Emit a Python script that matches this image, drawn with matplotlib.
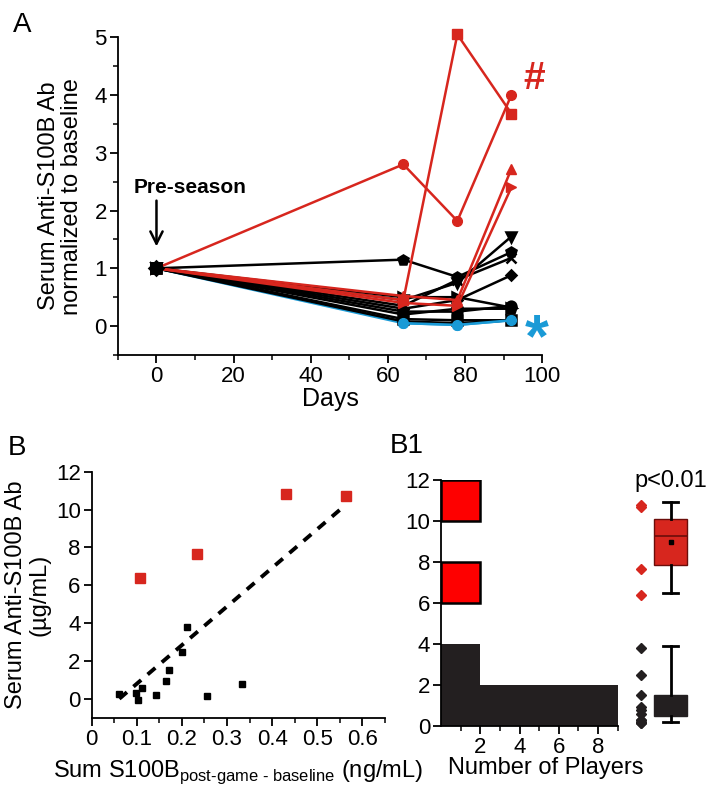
import numpy as np
import matplotlib
matplotlib.use("Agg")
import matplotlib.pyplot as plt
from matplotlib.ticker import MultipleLocator

plt.rcParams['font.family'] = ['Liberation Sans', 'DejaVu Sans']
plt.rcParams['mathtext.fontset'] = 'custom'
plt.rcParams['mathtext.rm'] = 'Liberation Sans'

RED = '#d7261e'
BLUE = '#1a9ad6'
DARK = '#231f20'

# ---- panel A: antibody over the season (normalized) ----
days = [0, 64, 78, 92]
red_players = [
    [1, 2.80, 1.82, 4.00],
    [1, 0.45, 5.05, 3.68],
    [1, 0.52, 0.45, 2.72],
    [1, 0.40, 0.35, 2.40],
]
black_players = [
    [1, 0.45, 0.75, 1.55],
    [1, 1.15, 0.85, 1.28],
    [1, 0.35, 0.80, 1.18],
    [1, 0.30, 0.45, 0.88],
    [1, 0.25, 0.25, 0.35],
    [1, 0.20, 0.30, 0.30],
    [1, 0.12, 0.10, 0.10],
    [1, 0.50, 0.50, 0.32],
    [1, 0.08, 0.05, 0.10],
]
blue_player = [1, 0.05, 0.02, 0.10]

# ---- panel B: antibody vs summed S100B ----
s100b_black = [0.061, 0.099, 0.103, 0.112, 0.142, 0.164, 0.172, 0.201, 0.212, 0.256, 0.333]
ab_black = [0.27, 0.30, -0.07, 0.57, 0.22, 0.94, 1.53, 2.47, 3.79, 0.14, 0.79]
s100b_red = [0.108, 0.233, 0.430, 0.564]
ab_red = [6.37, 7.64, 10.80, 10.70]

# ---- panel B1: box summaries ----
box_red = dict(med=9.28, q1=7.85, q3=10.1, whislo=6.5, whishi=10.94, mean=8.99)
box_black = dict(med=1.0, q1=0.5, q3=1.5, whislo=0.18, whishi=3.92, mean=1.0)
hist_edges = [0, 2, 4, 6, 8, 10, 12]

fig = plt.figure(figsize=(7.06, 7.94), dpi=100)

# ================= A =================
axA = fig.add_axes([0.167, 0.553, 0.601, 0.400])
red_marks = ['o', 's', '^', '>']
black_marks = ['v', 'p', 'x', 'D', 'o', 'p', 's', '>', '*']

axA.plot(days, blue_player, color=BLUE, lw=1.8, marker='o', ms=7, zorder=2)
for vals, m in zip(black_players, black_marks):
    axA.plot(days, vals, color='black', lw=1.8, marker=m, ms=7 if m != 'D' else 5.5,
             mew=1.8, zorder=3)
for vals, m in zip(red_players, red_marks):
    axA.plot(days, vals, color=RED, lw=1.8, marker=m, ms=7, zorder=4, clip_on=False)
axA.plot(days[1:], blue_player[1:], color=BLUE, lw=1.8, marker='o', ms=7, zorder=5)
# baseline markers of the black players sit on top at day 0
for vals, m in zip(black_players, black_marks):
    axA.plot(days[:1], vals[:1], color='black', marker=m, ms=7, mew=1.8, zorder=6)

axA.set_xlim(-10, 100)
axA.set_ylim(-0.5, 5)
axA.xaxis.set_major_locator(MultipleLocator(20))
axA.xaxis.set_minor_locator(MultipleLocator(10))
axA.yaxis.set_major_locator(MultipleLocator(1))
axA.yaxis.set_minor_locator(MultipleLocator(0.5))
axA.set_xlabel('Days', fontsize=18, labelpad=0)
axA.set_ylabel('Serum Anti-S100B Ab\nnormalized to baseline', fontsize=17,
               linespacing=1.05, labelpad=8)
axA.annotate('', xy=(0, 1.33), xytext=(0, 2.22),
             arrowprops=dict(arrowstyle='->', color='black', lw=1.8,
                             mutation_scale=22))
axA.text(8.6, 2.4, 'Pre-season', fontsize=15, fontweight='bold',
         ha='center', va='center')
axA.text(98, 4.27, '#', color=RED, fontsize=28, fontweight='bold',
         ha='center', va='center', clip_on=False)
axA.text(98.7, -0.25, '*', color=BLUE, fontsize=44, fontweight='bold',
         ha='center', va='center', clip_on=False)

# ================= B =================
axB = fig.add_axes([0.130, 0.096, 0.415, 0.310])
axB.plot(s100b_black, ab_black, 's', color='black', ms=4.5, zorder=3)
axB.plot(s100b_red, ab_red, 's', color=RED, ms=7, zorder=3)
all_x = np.array(s100b_black + s100b_red)
all_y = np.array(ab_black + ab_red)
slope, icpt = np.polyfit(all_x, all_y, 1)
fx = np.array([all_x.min(), all_x.max()])
axB.plot(fx, slope * fx + icpt, color='black', lw=2.8, dashes=(2.6, 2.2), zorder=2)
axB.set_xlim(0, 0.65)
axB.set_ylim(-1, 12)
axB.xaxis.set_minor_locator(MultipleLocator(0.05))
axB.yaxis.set_major_locator(MultipleLocator(2))
axB.set_xticks([0, 0.1, 0.2, 0.3, 0.4, 0.5, 0.6])
axB.set_xticklabels(['0', '0.1', '0.2', '0.3', '0.4', '0.5', '0.6'])
axB.set_ylabel('Serum Anti-S100B Ab\n(\u00b5g/mL)', fontsize=17,
               linespacing=1.05, labelpad=4)
axB.set_xlabel(r'Sum S100B$_{\text{post-game - baseline}}$ (ng/mL)',
               fontsize=17, labelpad=6)

# ================= B1 =================
axC = fig.add_axes([0.625, 0.0856, 0.361, 0.310])
cnt_b, _ = np.histogram(np.clip(ab_black, 0, None), bins=hist_edges)
cnt_r, _ = np.histogram(ab_red, bins=hist_edges)
for lo, c in zip(hist_edges[:-1], cnt_b):
    if c:
        axC.barh(lo, c, height=2, align='edge', color=DARK, edgecolor=DARK, lw=0)
for lo, c in zip(hist_edges[:-1], cnt_r):
    if c:
        axC.barh(lo, c, height=2, align='edge', color='#fe0000',
                 edgecolor='black', lw=1.8)

box_x = 11.7
dot_x = 10.2
bp = axC.bxp([box_red, box_black], positions=[box_x, box_x], widths=1.7,
             showmeans=True, patch_artist=True, showfliers=False,
             manage_ticks=False,
             whiskerprops=dict(color='black', lw=2),
             capprops=dict(color='black', lw=2),
             medianprops=dict(color='#6b0d0a', lw=1.2),
             meanprops=dict(marker='s', markerfacecolor='black',
                            markeredgecolor='black', ms=3))
bp['boxes'][0].set_facecolor(RED)
bp['boxes'][0].set_edgecolor('#6b0d0a')
bp['boxes'][1].set_facecolor(DARK)
bp['boxes'][1].set_edgecolor(DARK)
bp['medians'][1].set_color(DARK)
bp['means'][1].set_visible(False)
for cap in bp['caps']:
    mid = np.mean(cap.get_xdata())
    cap.set_xdata([mid - 0.4, mid + 0.4])
axC.plot([dot_x] * len(ab_red), ab_red, 'D', color=RED, ms=5.5, clip_on=False)
axC.plot([dot_x] * len(ab_black), np.clip(ab_black, 0.15, None), 'D',
         color=DARK, ms=5.5, clip_on=False)
axC.text(box_x, 11.95, 'p<0.01', fontsize=17, ha='center', va='center')

axC.set_xlim(0, 13)
axC.set_ylim(0, 12)
axC.spines['bottom'].set_bounds(0, 9)
axC.set_xticks([2, 4, 6, 8])
axC.set_xticks([1, 3, 5, 7, 9], minor=True)
axC.yaxis.set_major_locator(MultipleLocator(2))
axC.set_xlabel('Number of Players', fontsize=17)

for ax in (axA, axB, axC):
    for s in ('top', 'right'):
        ax.spines[s].set_visible(False)
    ax.spines['left'].set_linewidth(1.3)
    ax.spines['bottom'].set_linewidth(1.3)
    ax.tick_params(which='major', direction='out', length=6, width=1.3,
                   labelsize=16, pad=2)
    ax.tick_params(which='minor', direction='out', length=3.5, width=1.1)

axC.xaxis.set_label_coords(0.41, -0.125)

fig.text(0.018, 0.985, 'A', fontsize=20, va='top')
fig.text(0.011, 0.452, 'B', fontsize=20, va='top')
fig.text(0.552, 0.455, 'B1', fontsize=20, va='top')

fig.savefig('out.png', dpi=100)
